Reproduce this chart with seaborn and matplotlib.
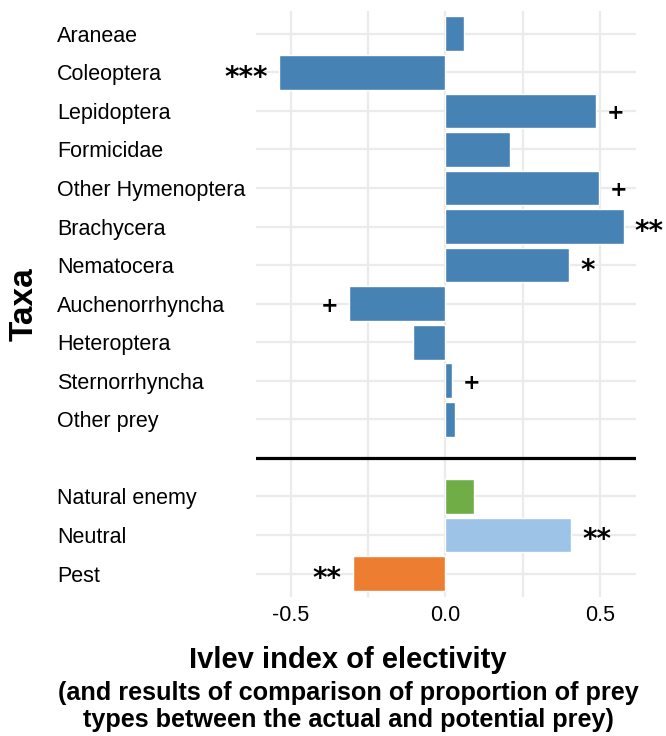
import matplotlib
matplotlib.use("Agg")
import matplotlib.pyplot as plt
import seaborn as sns
import pandas as pd
import numpy as np

# ---- data ----
taxa = ["Araneae", "Coleoptera", "Lepidoptera", "Formicidae", "Other Hymenoptera",
        "Brachycera", "Nematocera", "Auchenorrhyncha", "Heteroptera",
        "Sternorrhyncha", "Other prey"]
taxa_values = [0.061, -0.54, 0.488, 0.208, 0.498, 0.577, 0.401, -0.311, -0.106, 0.021, 0.032]
taxa_sig = ["", "***", "+", "", "+", "**", "*", "+", "", "+", ""]

groups = ["Natural enemy", "Neutral", "Pest"]
group_values = [0.092, 0.408, -0.30]
group_sig = ["", "**", "**"]

x_ticks = [-0.5, 0.0, 0.5]
x_tick_labels = ["-0.5", "0.0", "0.5"]

title = "Ivlev index of electivity"
subtitle = ["(and results of comparison of proportion of prey",
            "types between the actual and potential prey)"]
ylabel = "Taxa"

# ---- styling ----
taxa_color = "#4682B4"
group_colors = {"Natural enemy": "#70AD47", "Neutral": "#9DC3E6", "Pest": "#ED7D31"}
grid_color = "#EBEBEB"

sns.set_style("white")
plt.rcParams['font.family'] = ['Liberation Sans', 'DejaVu Sans']
plt.rcParams['text.color'] = 'black'

labels = taxa + groups
values = taxa_values + group_values
sig = taxa_sig + group_sig
df = pd.DataFrame({"label": labels, "value": values})

blank = " "
order = taxa + [blank] + groups
palette = {t: taxa_color for t in taxa}
palette.update(group_colors)

fig = plt.figure(figsize=(6.66, 7.36), dpi=100)
ax = fig.add_axes([256/666, 1 - 596.7/736, (636-256)/666, (596.7-10.7)/736])

# grid first
for xv in [-0.5, -0.25, 0.0, 0.25, 0.5]:
    ax.axvline(xv, color=grid_color, lw=1.6, zorder=0)
for i, lab in enumerate(order):
    if lab != blank:
        ax.axhline(i, color=grid_color, lw=1.6, zorder=0)

sns.barplot(data=df, x="value", y="label", hue="label", order=order,
            palette=palette, legend=False, width=0.9, orient="h",
            saturation=1, ax=ax, zorder=2)

ax.axhline(order.index(blank), color="black", lw=2.3, zorder=3)

ax.set_xlim(-0.613, 0.617)
ax.set_ylim(14.6, -0.6)
ax.set_xticks(x_ticks)
ax.set_xticklabels(x_tick_labels, fontsize=15.5, color="black")
ax.set_yticks(range(len(order)))
ax.set_yticklabels(order, fontsize=15.5, color="black")
for t in ax.get_yticklabels():
    t.set_horizontalalignment("left")
ax.tick_params(axis="y", length=0, pad=143.3)
ax.tick_params(axis="x", length=0, pad=6)
ax.set_xlabel("")
ax.set_ylabel("")
for s in ax.spines.values():
    s.set_visible(False)
ax.grid(False)

# significance markers
for lab, v, s in zip(labels, values, sig):
    if not s:
        continue
    y = order.index(lab)
    off = 0.035 if v >= 0 else -0.035
    ha = "left" if v >= 0 else "right"
    if s == "+":
        ax.text(v + off, y + 0.05, s, ha=ha, va="center", fontsize=15,
                fontweight="bold", family="DejaVu Sans", clip_on=False, zorder=4)
    else:
        ax.text(v + off, y + 0.14, s, ha=ha, va="center", fontsize=20,
                fontweight="bold", family="DejaVu Sans", clip_on=False, zorder=4)

fig.text(24/666, 1 - 303.7/736, ylabel, rotation=90, ha="center", va="center",
         fontsize=24, fontweight="bold")
fig.text(348/666, 1 - 668/736, title, ha="center", va="baseline",
         fontsize=21, fontweight="bold")
fig.text(348/666, 1 - 700/736, subtitle[0], ha="center", va="baseline",
         fontsize=18.2, fontweight="bold")
fig.text(348/666, 1 - 727/736, subtitle[1], ha="center", va="baseline",
         fontsize=18.2, fontweight="bold")

fig.savefig("out.png", dpi=100)
